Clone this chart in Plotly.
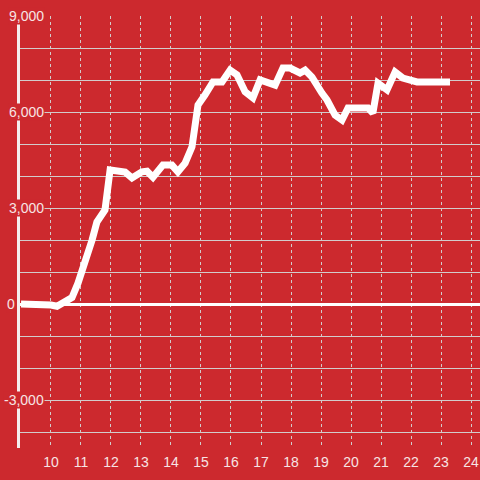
import plotly.graph_objects as go

hours = [9.0, 9.5, 10.0, 10.2, 10.7, 10.9, 11.13, 11.37, 11.53, 11.8, 11.97, 12.23, 12.47,
         12.7, 13.03, 13.2, 13.4, 13.73, 14.03, 14.23, 14.47, 14.7, 14.9, 15.13, 15.4, 15.7,
         15.97, 16.2, 16.47, 16.73, 16.97, 17.47, 17.73, 17.97, 18.3, 18.47, 18.7, 19.03,
         19.2, 19.47, 19.7, 19.9, 20.57, 20.73, 20.9, 21.2, 21.47, 21.73, 22.2, 23.3]
values = [0, 0, -30, -70, 200, 650, 1280, 2000, 2560, 2940, 4190, 4150, 4120,
          3940, 4130, 4150, 3960, 4340, 4340, 4130, 4400, 4910, 6220, 6530, 6940, 6940,
          7310, 7160, 6630, 6440, 7000, 6840, 7375, 7375, 7220, 7310, 7090, 6590,
          6375, 5900, 5750, 6125, 6125, 5970, 6900, 6690, 7250, 7060, 6940, 6940]

x_ticks = list(range(10, 25))
y_label_vals = [-3000, 0, 3000, 6000, 9000]
y_label_text = ["-3,000", "0", "3,000", "6,000", "9,000"]

BG = "#cc292e"
TXT = "#f7e4e4"
GRID = "#d2cccc"
FONT = "Liberation Sans, Arial, sans-serif"

L, R, T, B = 20, 0, 16, 32
PLOT_W = 480 - L - R

fig = go.Figure()
fig.add_trace(go.Scatter(x=hours, y=values, mode="lines",
                         line=dict(color="white", width=7), hoverinfo="skip",
                         cliponaxis=False))

for v, t in zip(y_label_vals, y_label_text):
    right_px = 16 if v == 0 else 45
    fig.add_annotation(x=(right_px - L) / PLOT_W, xref="paper", y=v, yref="y",
                       text=t, showarrow=False, xanchor="right", yanchor="middle",
                       bgcolor=BG, borderpad=0,
                       font=dict(family=FONT, size=14, color=TXT))

fig.update_layout(
    width=480, height=480,
    margin=dict(l=L, r=R, t=T, b=B, autoexpand=False),
    paper_bgcolor=BG, plot_bgcolor=BG,
    showlegend=False,
    xaxis=dict(range=[8.967, 24.3], tickvals=x_ticks, ticktext=[str(v) for v in x_ticks],
               automargin=False,
               showgrid=True, gridcolor=GRID, gridwidth=1, griddash="dot",
               zeroline=False, showline=False,
               ticks="outside", ticklen=1, tickcolor="rgba(0,0,0,0)",
               tickfont=dict(family=FONT, size=14, color=TXT)),
    yaxis=dict(range=[-4500, 9000], dtick=1000, tick0=0, showticklabels=False,
               automargin=False,
               showgrid=True, gridcolor=GRID, gridwidth=1,
               zeroline=True, zerolinecolor="white", zerolinewidth=3,
               showline=True, linecolor="#f4eeee", linewidth=3),
)

fig.write_html("out.html",
               config={"displayModeBar": False, "staticPlot": True},
               post_script="document.body.style.margin='0';"
                           "document.body.style.overflow='hidden';"
                           "document.body.style.background='" + BG + "';")
